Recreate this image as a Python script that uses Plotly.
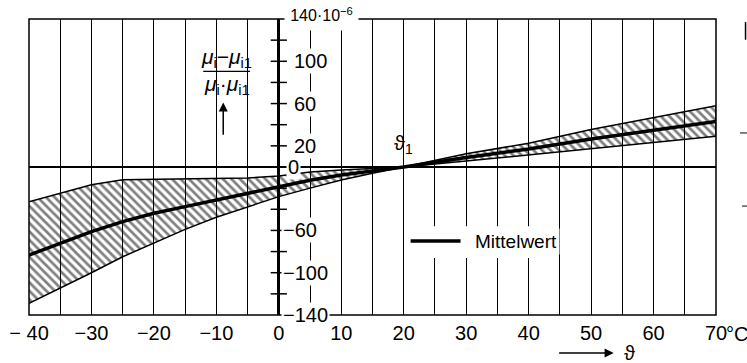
import plotly.graph_objects as go

# ---------------- data ----------------
temp = [-40, -35, -30, -25, -20, -15, -10, -5, 0, 5, 10, 15, 20, 30, 40, 50, 60, 70]
upper = [-33, -25, -16.8, -12, -11.7, -11.5, -11.2, -10.4, -8.5, -4.8, -2.8, -1.2, 0, 12.5, 22.5, 35.5, 47, 58]
mean = [-83.3, -72.3, -61.2, -51.7, -43.8, -37.5, -31.2, -24.3, -18.8, -12.5, -7.5, -3.6, 0, 9, 17, 26.5, 34.5, 43]
lower = [-129, -114.8, -100, -84.9, -72.2, -59, -47.6, -37.5, -28, -20, -12.3, -5.9, 0, 5.6, 11.6, 17.6, 23, 29]

x_ticks = [-40, -30, -20, -10, 0, 10, 20, 30, 40, 50, 60, 70]
x_ticktext = ["\u2212 40", "\u221230", "\u221220", "\u221210", "0", "10", "20", "30", "40", "50", "60", "70"]
y_ticks = [-120, -100, -80, -60, -40, -20, 20, 40, 60, 80, 100, 120]
y_labels = [100, 60, 20, 0, -60, -100, -140]
y_top_label = "140\u00b710<sup>\u22126</sup>"
legend_text = "Mittelwert"

FONT = "Liberation Sans Narrow, Liberation Sans, Arial, sans-serif"
FONT2 = "Liberation Sans, Arial, sans-serif"

fig = go.Figure()

# band (upper boundary, then lower boundary filled with hatching)
fig.add_trace(go.Scatter(x=temp, y=upper, mode="lines",
                         line=dict(color="black", width=1.5), showlegend=False,
                         hoverinfo="skip"))
fig.add_trace(go.Scatter(x=temp, y=lower, mode="lines", fill="tonexty",
                         fillcolor="rgba(0,0,0,0)",
                         fillpattern=dict(shape="\\", fgcolor="black", bgcolor="rgba(0,0,0,0)",
                                          size=6, solidity=0.45),
                         line=dict(color="black", width=1.5), showlegend=False,
                         hoverinfo="skip"))
# vertical closing edge at the right end
fig.add_trace(go.Scatter(x=[temp[-1], temp[-1]], y=[lower[-1], upper[-1]], mode="lines",
                         line=dict(color="black", width=1.5), showlegend=False, hoverinfo="skip"))
# mean
fig.add_trace(go.Scatter(x=temp, y=mean, mode="lines", name=legend_text,
                         line=dict(color="black", width=3.5), showlegend=False))

# y-axis ticks, centred on the axis at x = 0
tx, ty = [], []
for v in y_ticks:
    tx += [-1.3, 1.3, None]
    ty += [v, v, None]
fig.add_trace(go.Scatter(x=tx, y=ty, mode="lines", line=dict(color="black", width=1.5),
                         showlegend=False, hoverinfo="skip"))

annotations = []
# y tick labels on the right of the axis
for v in y_labels:
    if v > 0:
        shift = 13
    elif v == 0:
        shift = 7
    else:
        shift = 2
    annotations.append(dict(x=0, y=v, xref="x", yref="y", text=str(v).replace("-", "\u2212"),
                            showarrow=False, xanchor="left", yanchor="middle", xshift=shift,
                            bgcolor="white", borderpad=1,
                            font=dict(family=FONT, size=20, color="black")))
# top label 140·10^-6
annotations.append(dict(x=6.9, y=1.0, xref="x", yref="paper", text=y_top_label,
                        showarrow=False, xanchor="center", yanchor="top", yshift=21,
                        width=73, height=31, valign="middle", bgcolor="white", borderpad=0,
                        font=dict(family=FONT, size=16, color="black")))
# y-axis quantity (fraction)
annotations.append(dict(x=-8.3, y=103.5, xref="x", yref="y",
                        text="<i>\u03bc</i><sub>i</sub>\u2212<i>\u03bc</i><sub>i1</sub>",
                        showarrow=False, xanchor="center", yanchor="middle",
                        font=dict(family=FONT2, size=21, color="black")))
annotations.append(dict(x=-8.3, y=77.5, xref="x", yref="y",
                        text="<i>\u03bc</i><sub>i</sub>\u00b7<i>\u03bc</i><sub>i1</sub>",
                        showarrow=False, xanchor="center", yanchor="middle",
                        font=dict(family=FONT2, size=21, color="black")))
annotations.append(dict(x=-8.9, y=61, xref="x", yref="y", ax=-8.9, ay=29,
                        axref="x", ayref="y", text="", showarrow=True,
                        arrowhead=2, arrowsize=1.2, arrowwidth=1.5, arrowcolor="black"))
# theta_1 label
annotations.append(dict(x=20, y=21, xref="x", yref="y", text="\u03d1<sub>1</sub>",
                        showarrow=False, xanchor="center", yanchor="middle",
                        font=dict(family=FONT2, size=20, color="black")))
# legend (manual, white box hides grid)
annotations.append(dict(x=31.0, y=-70, xref="x", yref="y", text=legend_text,
                        showarrow=False, xanchor="left", yanchor="middle",
                        bgcolor="white", borderpad=2,
                        font=dict(family=FONT2, size=19, color="black")))
# °C unit next to last x tick
annotations.append(dict(x=70, y=0, xref="x", yref="paper", text="\u00b0C",
                        showarrow=False, xanchor="left", yanchor="top", xshift=8, yshift=-6,
                        font=dict(family=FONT, size=20, color="black")))
# axis arrow with theta
annotations.append(dict(x=0.851, y=-0.128, xref="paper", yref="paper", ax=-56, ay=0,
                        text="", showarrow=True, arrowhead=2, arrowsize=1.2, arrowwidth=1.5,
                        arrowcolor="black"))
annotations.append(dict(x=0.851, y=-0.128, xref="paper", yref="paper", text="\u03d1",
                        showarrow=False, xanchor="left", yanchor="middle", xshift=8,
                        font=dict(family=FONT2, size=20, color="black")))

shapes = [
    # fraction bar
    dict(type="line", xref="x", yref="y", x0=-12.1, x1=-4.6, y0=90.5, y1=90.5,
         line=dict(color="black", width=1.3)),
    # legend white box and line sample
    dict(type="rect", xref="x", yref="y", x0=20.8, x1=44.8, y0=-56, y1=-86,
         fillcolor="white", line=dict(width=0), layer="above"),
    dict(type="line", xref="x", yref="y", x0=21.1, x1=29.1, y0=-70, y1=-70,
         line=dict(color="black", width=3.5), layer="above"),
    # plot frame
    dict(type="rect", xref="x domain", yref="y domain", x0=0, x1=1, y0=0, y1=1,
         line=dict(color="black", width=1.5), layer="above"),
    # stray scan marks at the right edge
    dict(type="line", xref="paper", yref="paper", x0=1.043, x1=1.043, y0=0.99, y1=0.93,
         line=dict(color="black", width=1.5)),
    dict(type="line", xref="paper", yref="paper", x0=1.035, x1=1.045, y0=0.615, y1=0.615,
         line=dict(color="black", width=1)),
    dict(type="line", xref="paper", yref="paper", x0=1.038, x1=1.045, y0=0.368, y1=0.368,
         line=dict(color="black", width=1)),
]

fig.update_layout(
    width=747, height=363,
    margin=dict(l=29, r=31, t=19, b=48, autoexpand=False),
    paper_bgcolor="white", plot_bgcolor="white",
    showlegend=False,
    font=dict(family=FONT, size=20, color="black"),
    annotations=annotations, shapes=shapes,
    xaxis=dict(range=[-40, 70], tickvals=x_ticks, ticktext=x_ticktext,
               showgrid=True, gridcolor="black", gridwidth=1,
               minor=dict(dtick=5, showgrid=True, gridcolor="black", gridwidth=1),
               zeroline=True, zerolinecolor="black", zerolinewidth=2.5,
               showline=False, ticks="", ticklabelstandoff=4, automargin=False,
               tickfont=dict(family=FONT, size=20, color="black")),
    yaxis=dict(range=[-140, 140], showgrid=False, showticklabels=False, ticks="",
               zeroline=True, zerolinecolor="black", zerolinewidth=2,
               showline=False, automargin=False),
)

fig.write_html("out.html", config={"displayModeBar": False},
               post_script="document.body.style.margin='0';document.body.style.padding='0';"
                           "document.documentElement.style.overflow='hidden';")
